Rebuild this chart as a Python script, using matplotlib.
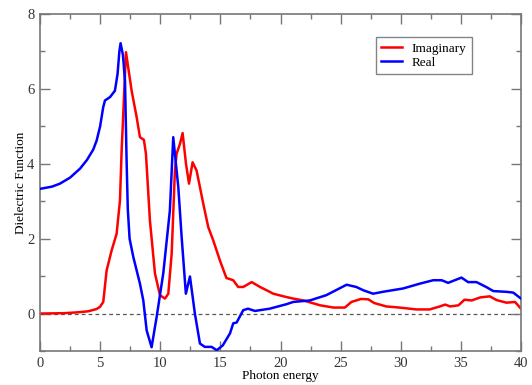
import matplotlib
matplotlib.use("Agg")
import matplotlib.pyplot as plt
from matplotlib.ticker import MultipleLocator

# Real part
real_x = [0, 1, 1.66, 2.5, 3.33, 3.9, 4.43, 4.71, 5.0, 5.25, 5.4, 5.82, 6.23, 6.45, 6.6, 6.7,
          6.9, 7.07, 7.2, 7.3, 7.45, 7.76, 8.31,
          8.59, 8.87, 9.28, 9.7, 10.25, 10.8, 11.08, 11.5, 11.78, 12.13, 12.47, 12.88, 13.3,
          13.7, 14.27, 14.7, 15.2, 15.8, 16.07, 16.35, 16.9, 17.3, 17.87, 19.1, 20.5, 21.06,
          22.44, 23.8, 25.5, 26.3, 26.9, 27.7, 28.5, 30.2, 31.6, 32.7, 33.4, 33.94, 35.05,
          35.6, 36.3, 37.1, 37.7, 38.8, 39.35, 40]
real_y = [3.33, 3.39, 3.47, 3.63, 3.87, 4.1, 4.38, 4.62, 5.0, 5.5, 5.69, 5.78, 5.95, 6.4, 7.0, 7.22,
          6.9, 6.2, 4.1, 2.8, 2.0, 1.51, 0.8,
          0.35, -0.45, -0.9, -0.09, 1.07, 2.75, 4.71, 3.38, 2.04, 0.53, 0.99, 0.0, -0.8,
          -0.89, -0.89, -0.98, -0.85, -0.53, -0.26, -0.24, 0.09, 0.13, 0.07, 0.13, 0.25, 0.31,
          0.35, 0.49, 0.77, 0.71, 0.62, 0.53, 0.58, 0.67, 0.8, 0.89, 0.89, 0.82, 0.96,
          0.84, 0.84, 0.71, 0.6, 0.58, 0.56, 0.4]

# Imaginary part
imag_x = [0, 2, 3, 4, 4.7, 4.99, 5.26, 5.54, 5.96, 6.37, 6.65, 6.79, 7.15, 7.62, 8.04, 8.31, 8.64,
          8.81, 9.14, 9.56, 9.98, 10.39, 10.67, 10.95, 11.22, 11.36, 11.64, 11.86, 12.14, 12.39,
          12.69, 13.02, 13.58, 13.99, 14.41, 14.96, 15.5, 16.07, 16.48, 16.9, 17.6, 18.3, 19.1,
          19.4, 20.5, 21.06, 21.9, 23.3, 24.4, 25.35, 25.9, 26.7, 27.3, 27.8, 28.8, 29.9, 31.3,
          32.4, 33.25, 33.7, 34.1, 34.8, 35.3, 35.9, 36.6, 37.4, 37.97, 38.8, 39.5, 40]
imag_y = [0.0, 0.01, 0.03, 0.06, 0.12, 0.18, 0.31, 1.15, 1.69, 2.13, 3.02, 4.36, 6.98, 5.95, 5.24, 4.71, 4.64,
          4.27, 2.49, 1.07, 0.49, 0.4, 0.53, 1.6, 3.82, 4.27, 4.53, 4.82, 4.0, 3.47,
          4.04, 3.82, 2.93, 2.31, 1.95, 1.42, 0.95, 0.89, 0.71, 0.71, 0.84, 0.71, 0.58,
          0.53, 0.44, 0.4, 0.35, 0.22, 0.16, 0.16, 0.31, 0.39, 0.38, 0.28, 0.19, 0.16, 0.11,
          0.11, 0.19, 0.24, 0.19, 0.22, 0.37, 0.35, 0.43, 0.46, 0.36, 0.29, 0.31, 0.13]

plt.rcParams['font.family'] = ['Liberation Serif', 'DejaVu Serif']

fig = plt.figure(figsize=(5.32, 3.85), dpi=100)
ax = fig.add_axes([40/532, 1 - 351/385, 481/532, 337/385])

ax.axhline(0, color='#555555', lw=0.9, ls=(0, (3, 2.5)), zorder=1)
ax.plot(imag_x, imag_y, color='#ff0000', lw=1.8, label='Imaginary', zorder=2,
        solid_joinstyle='round')
ax.plot(real_x, real_y, color='#0000ff', lw=1.8, label='Real', zorder=3,
        solid_joinstyle='round')

ax.set_xlim(0, 40)
ax.set_ylim(-1, 8)
ax.xaxis.set_major_locator(MultipleLocator(5))
ax.xaxis.set_minor_locator(MultipleLocator(2.5))
ax.yaxis.set_major_locator(MultipleLocator(2))
ax.yaxis.set_minor_locator(MultipleLocator(1))
ax.tick_params(which='both', direction='in', top=True, right=True, color='#777777',
               labelsize=10.5, labelcolor='#333333', pad=4)
ax.tick_params(which='major', length=7, width=1)
ax.tick_params(which='minor', length=3.5, width=1)
for s in ax.spines.values():
    s.set_color('#777777')
    s.set_linewidth(1.2)

ax.set_xlabel('Photon energy', fontsize=9.5, labelpad=0)
ax.set_ylabel('Dielectric Function', fontsize=9.5, labelpad=0)

leg = ax.legend(loc='upper left', bbox_to_anchor=((376 - 40) / 481, 1 - (37 - 14) / 337),
                fontsize=9.5, frameon=True, fancybox=False, handlelength=1.6,
                borderpad=0.4, labelspacing=0.15, handletextpad=0.7, borderaxespad=0)
leg.get_frame().set_edgecolor('#666666')
leg.get_frame().set_linewidth(1.0)

fig.savefig('out.png', dpi=100)
